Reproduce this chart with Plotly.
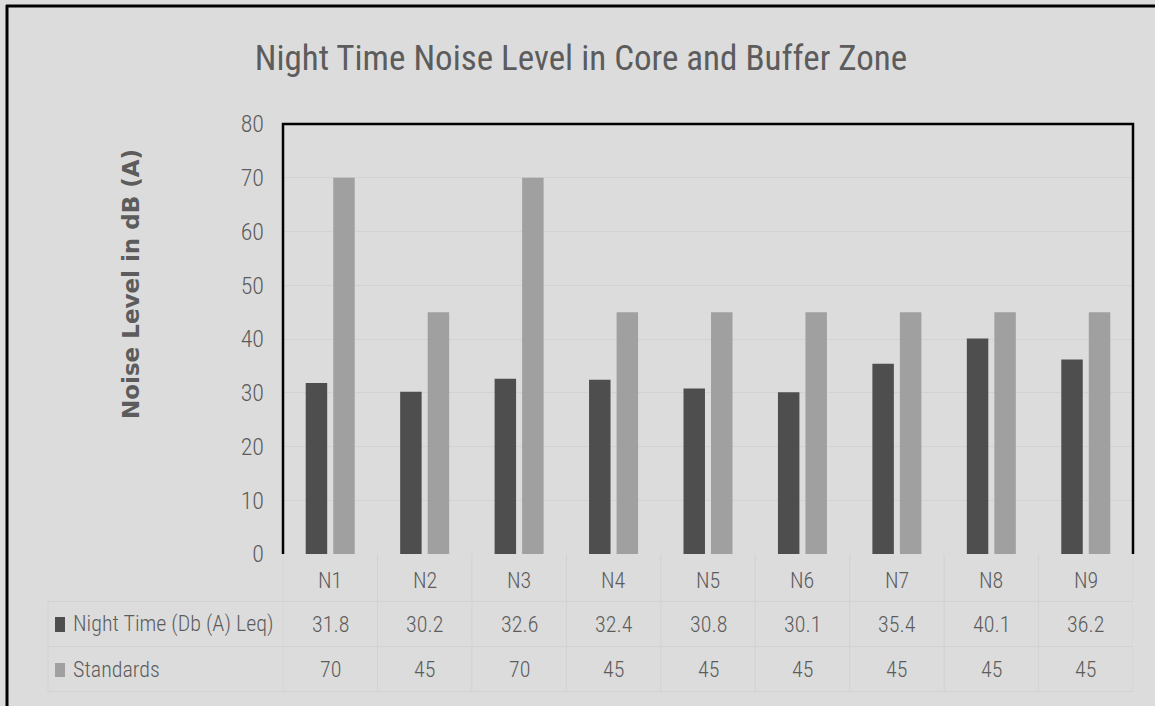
import plotly.graph_objects as go

categories = ["N1", "N2", "N3", "N4", "N5", "N6", "N7", "N8", "N9"]
night_time = [31.8, 30.2, 32.6, 32.4, 30.8, 30.1, 35.4, 40.1, 36.2]
standards = [70, 45, 70, 45, 45, 45, 45, 45, 45]
series_names = ["Night Time (Db (A) Leq)", "Standards"]
y_ticks = [0, 10, 20, 30, 40, 50, 60, 70, 80]

W, H = 1155, 706
L, R, T, B = 283, 22, 124, 152
PW, PH = W - L - R, H - T - B

def px(x):
    return (x - L) / PW

def py(y):
    return (H - B - y) / PH

BG = "#dcdcdc"
DARK = "#4e4e4e"
LIGHT = "#a0a0a0"
TXT = "#5c5c5c"
GRID = "#d2d2d2"
FONT = "Roboto Condensed"

fig = go.Figure()
fig.add_trace(go.Bar(x=list(range(len(categories))), y=night_time, name=series_names[0],
                     marker=dict(color=DARK, line=dict(width=0))))
fig.add_trace(go.Bar(x=list(range(len(categories))), y=standards, name=series_names[1],
                     marker=dict(color=LIGHT, line=dict(width=0))))

shapes = []
# plot area frame (left, top, right)
shapes.append(dict(type="path", xref="paper", yref="paper",
                   path="M 0,0 L 0,1 L 1,1 L 1,0", line=dict(color="black", width=2.5)))
# outer chart border (top, left)
shapes.append(dict(type="line", xref="paper", yref="paper", x0=px(6), x1=px(1160), y0=py(6), y1=py(6),
                   line=dict(color="black", width=3)))
shapes.append(dict(type="line", xref="paper", yref="paper", x0=px(7), x1=px(7), y0=py(5), y1=py(710),
                   line=dict(color="black", width=3)))

# data table grid
row_lines = [601.5, 646.5, 691.5]
for yy in row_lines:
    shapes.append(dict(type="line", xref="paper", yref="paper", x0=px(48), x1=1, y0=py(yy), y1=py(yy),
                       line=dict(color=GRID, width=1)))
shapes.append(dict(type="line", xref="paper", yref="paper", x0=px(48), x1=px(48), y0=py(601.5), y1=py(691.5),
                   line=dict(color=GRID, width=1)))
for k in range(len(categories) + 1):
    shapes.append(dict(type="line", xref="x", yref="paper", x0=k - 0.5, x1=k - 0.5, y0=0, y1=py(691.5),
                       line=dict(color=GRID, width=1)))

# legend keys
for (y0, y1), col in zip([(617, 632), (663, 677)], [DARK, LIGHT]):
    shapes.append(dict(type="rect", xref="paper", yref="paper", x0=px(55), x1=px(65), y0=py(y1), y1=py(y0),
                       fillcolor=col, line=dict(width=0)))

annotations = []
fs = 22
tfont = dict(family=FONT, size=fs, color=TXT, weight=300)
for i, c in enumerate(categories):
    annotations.append(dict(x=i, y=py(580), xref="x", yref="paper", text=c, showarrow=False,
                            font=tfont, xanchor="center", yanchor="middle"))
    annotations.append(dict(x=i, y=py(624), xref="x", yref="paper", text=f"{night_time[i]}", showarrow=False,
                            font=tfont, xanchor="center", yanchor="middle"))
    annotations.append(dict(x=i, y=py(669), xref="x", yref="paper", text=f"{standards[i]}", showarrow=False,
                            font=tfont, xanchor="center", yanchor="middle"))
for name, yy in zip(series_names, [624, 669]):
    annotations.append(dict(x=px(71), y=py(yy), xref="paper", yref="paper", text=name, showarrow=False,
                            font=tfont, xanchor="left", yanchor="middle"))
# y-axis title
annotations.append(dict(x=px(131), y=py(284), xref="paper", yref="paper", text="<b>Noise Level in dB (A)</b>",
                        textangle=-90, showarrow=False,
                        font=dict(family="DejaVu Sans", size=23, color=TXT), xanchor="center", yanchor="middle"))

fig.update_layout(
    width=W, height=H,
    margin=dict(l=L, r=R, t=T, b=B, pad=0),
    paper_bgcolor=BG, plot_bgcolor=BG,
    showlegend=False,
    barmode="group", bargap=0.417, bargroupgap=0.22,
    title=dict(text="Night Time Noise Level in Core and Buffer Zone", x=581 / W, xanchor="center",
               y=1 - 58 / H, yanchor="middle", yref="container",
               font=dict(family=FONT, size=35, color=TXT)),
    xaxis=dict(range=[-0.5, len(categories) - 0.5], showticklabels=False, showgrid=False,
               zeroline=False, showline=False, ticks=""),
    yaxis=dict(range=[0, 80], tickvals=y_ticks, showgrid=True, gridcolor=GRID, gridwidth=1,
               zeroline=False, showline=False, ticks="", ticklabelstandoff=18,
               tickfont=dict(family=FONT, size=24, color=TXT, weight=300)),
    shapes=shapes,
    annotations=annotations,
)

fig.write_html("out.html", config={"displayModeBar": False},
               post_script="document.body.style.margin='0';document.body.style.background='%s';" % BG)
